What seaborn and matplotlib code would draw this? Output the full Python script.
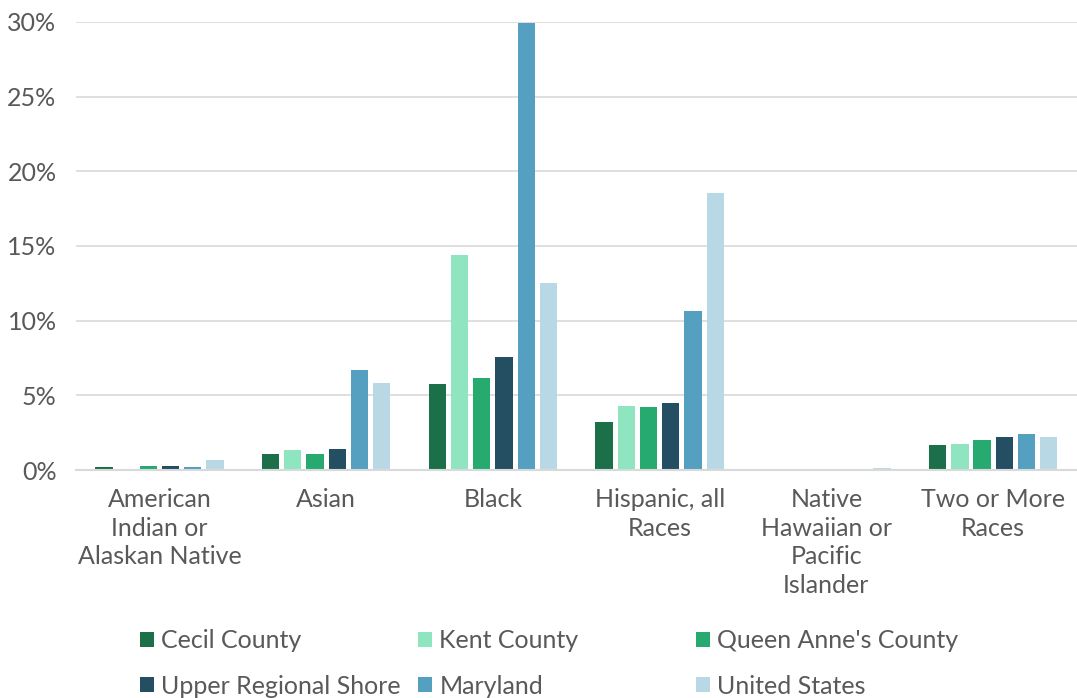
import matplotlib
matplotlib.use("Agg")
import matplotlib.pyplot as plt
from matplotlib.patches import Patch
import pandas as pd
import seaborn as sns

categories = ["American\nIndian or\nAlaskan Native", "Asian", "Black",
              "Hispanic, all\nRaces", "Native\nHawaiian or\nPacific\nIslander",
              "Two or More\nRaces"]
series = ["Cecil County", "Kent County", "Queen Anne's County",
          "Upper Regional Shore", "Maryland", "United States"]

cecil = [0.22, 1.05, 5.76, 3.20, 0.0, 1.65]
kent = [0.10, 1.34, 14.4, 4.29, 0.0, 1.74]
queen_annes = [0.25, 1.10, 6.16, 4.22, 0.0, 1.99]
upper_shore = [0.27, 1.38, 7.57, 4.47, 0.0, 2.19]
maryland = [0.20, 6.68, 29.95, 10.65, 0.0, 2.43]
united_states = [0.70, 5.83, 12.5, 18.55, 0.13, 2.19]

colors = ["#1c7049", "#8fe5c0", "#27aa6f", "#244f62", "#55a0c1", "#b9d8e6"]

values = [cecil, kent, queen_annes, upper_shore, maryland, united_states]
rows = []
for name, vals in zip(series, values):
    for cat, v in zip(categories, vals):
        rows.append({"category": cat, "series": name, "value": v / 100})
df = pd.DataFrame(rows)

sns.set_theme(style="white")
plt.rcParams['font.family'] = ['Lato', 'DejaVu Sans']
text_color = "#595959"

fig = plt.figure(figsize=(10.77, 6.98), dpi=100)
ax = fig.add_axes([0.0706, 0.3266, 0.929, 0.642])

sns.barplot(data=df, x="category", y="value", hue="series", order=categories,
            hue_order=series, palette=colors, saturation=1, width=0.8, gap=0.22,
            linewidth=0, errorbar=None, legend=False, ax=ax)

ax.set_ylim(0, 0.30)
ax.set_xlim(-0.5, 5.5)
ax.set_yticks([0, 0.05, 0.10, 0.15, 0.20, 0.25, 0.30])
ax.set_yticklabels(["0%", "5%", "10%", "15%", "20%", "25%", "30%"])
ax.yaxis.grid(True, color="#d9d9d9", linewidth=1.2)
ax.set_axisbelow(True)
for s in ["top", "right", "left"]:
    ax.spines[s].set_visible(False)
ax.spines["bottom"].set_color("#d9d9d9")
ax.spines["bottom"].set_linewidth(1.5)
ax.set_xlabel("")
ax.set_ylabel("")
ax.tick_params(axis="both", length=0, labelsize=18, labelcolor=text_color)
ax.tick_params(axis="x", pad=13)
ax.tick_params(axis="y", pad=14)
for lbl in ax.get_xticklabels():
    lbl.set_linespacing(1.3)

# one legend per column so the columns sit at fixed x positions
col_x = [140, 418, 696]
for c in range(3):
    idx = [c, c + 3]
    handles = [Patch(facecolor=colors[i], edgecolor="none") for i in idx]
    fig.legend(handles, [series[i] for i in idx], loc="upper left",
               bbox_to_anchor=(col_x[c] / 1077, 1 - 629 / 698),
               frameon=False, fontsize=18, labelcolor=text_color,
               handlelength=0.55, handleheight=0.55, handletextpad=0.3,
               labelspacing=0.9, borderpad=0, borderaxespad=0)

fig.savefig("out.png", dpi=100)
